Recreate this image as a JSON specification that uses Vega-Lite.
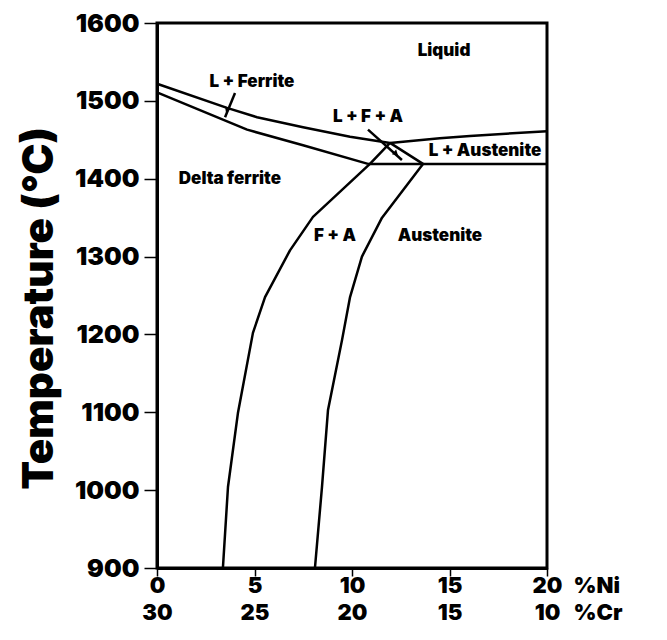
{
  "$schema": "https://vega.github.io/schema/vega-lite/v6.json",
  "width": 390,
  "height": 545,
  "autosize": {"type": "none"},
  "padding": {"left": 157, "top": 23, "right": 120, "bottom": 72},
  "background": "white",
  "config": {
    "view": {"stroke": "black", "strokeWidth": 3},
    "axis": {"grid": false, "domainColor": "black", "domainWidth": 3, "tickColor": "black", "tickWidth": 1.5, "labelColor": "black", "titleColor": "black", "labelFont": "Inter", "labelFontWeight": 900, "titleFont": "Inter", "titleFontWeight": 900, "labelFlush": false, "labelOverlap": false}
  },
  "datasets": {
    "lines": [
      {"series": "liquidus", "ord": 1, "ni": 0, "t": 1522},
      {"series": "liquidus", "ord": 2, "ni": 3.59, "t": 1491},
      {"series": "liquidus", "ord": 3, "ni": 5.13, "t": 1479},
      {"series": "liquidus", "ord": 4, "ni": 7.49, "t": 1466},
      {"series": "liquidus", "ord": 5, "ni": 9.9, "t": 1454},
      {"series": "liquidus", "ord": 6, "ni": 11.95, "t": 1446},
      {"series": "liquidus", "ord": 7, "ni": 14.5, "t": 1452},
      {"series": "liquidus", "ord": 8, "ni": 16.05, "t": 1455},
      {"series": "liquidus", "ord": 9, "ni": 20, "t": 1461},
      {"series": "solidus", "ord": 1, "ni": 0, "t": 1511},
      {"series": "solidus", "ord": 2, "ni": 4.62, "t": 1463},
      {"series": "solidus", "ord": 3, "ni": 7.49, "t": 1443},
      {"series": "solidus", "ord": 4, "ni": 10.82, "t": 1419},
      {"series": "peritectic", "ord": 1, "ni": 10.82, "t": 1419},
      {"series": "peritectic", "ord": 2, "ni": 20, "t": 1419},
      {"series": "fa_left", "ord": 1, "ni": 11.95, "t": 1446},
      {"series": "fa_left", "ord": 2, "ni": 10.92, "t": 1419},
      {"series": "fa_left", "ord": 3, "ni": 8.0, "t": 1351},
      {"series": "fa_left", "ord": 4, "ni": 6.82, "t": 1308},
      {"series": "fa_left", "ord": 5, "ni": 5.54, "t": 1248},
      {"series": "fa_left", "ord": 6, "ni": 4.92, "t": 1202},
      {"series": "fa_left", "ord": 7, "ni": 4.15, "t": 1099},
      {"series": "fa_left", "ord": 8, "ni": 3.64, "t": 1004},
      {"series": "fa_left", "ord": 9, "ni": 3.38, "t": 900},
      {"series": "fa_right", "ord": 1, "ni": 11.95, "t": 1446},
      {"series": "fa_right", "ord": 2, "ni": 13.64, "t": 1419},
      {"series": "fa_right", "ord": 3, "ni": 11.54, "t": 1350},
      {"series": "fa_right", "ord": 4, "ni": 10.51, "t": 1300},
      {"series": "fa_right", "ord": 5, "ni": 9.9, "t": 1248},
      {"series": "fa_right", "ord": 6, "ni": 9.49, "t": 1193},
      {"series": "fa_right", "ord": 7, "ni": 8.77, "t": 1103},
      {"series": "fa_right", "ord": 8, "ni": 8.46, "t": 1004},
      {"series": "fa_right", "ord": 9, "ni": 8.1, "t": 900},
      {"series": "pointer1", "ord": 1, "ni": 4.0, "t": 1510},
      {"series": "pointer1", "ord": 2, "ni": 3.49, "t": 1479},
      {"series": "pointer2", "ord": 1, "ni": 10.82, "t": 1463},
      {"series": "pointer2", "ord": 2, "ni": 12.56, "t": 1424}
    ],
    "heads": [
      {"head": "h1", "ni": 3.59, "t": 1488},
      {"head": "h2", "ni": 12.26, "t": 1432}
    ],
    "labels": [
      {"text": "Liquid", "ni": 14.72, "t": 1564},
      {"text": "L + Ferrite", "ni": 4.87, "t": 1524},
      {"text": "L + F + A", "ni": 10.82, "t": 1479},
      {"text": "L + Austenite", "ni": 16.82, "t": 1436},
      {"text": "Delta ferrite", "ni": 3.74, "t": 1400},
      {"text": "F + A", "ni": 9.13, "t": 1326},
      {"text": "Austenite", "ni": 14.51, "t": 1326}
    ]
  },
  "encoding": {
    "x": {
      "field": "ni", "type": "quantitative",
      "scale": {"domain": [0, 20], "nice": false, "zero": false},
      "axis": {
        "values": [0, 5, 10, 15, 20],
        "tickSize": 8,
        "labelPadding": -1,
        "labelFontSize": 22,
        "labelLineHeight": 27,
        "labelExpr": "[datum.label, '' + (30 - datum.value)]",
        "title": ["%Ni", "%Cr"],
        "titleFontSize": 22,
        "titleLineHeight": 27,
        "titleAngle": 0,
        "titleAlign": "left",
        "titleBaseline": "top",
        "titleX": 416,
        "titleY": 7
      }
    },
    "y": {
      "field": "t", "type": "quantitative",
      "scale": {"domain": [900, 1600], "nice": false, "zero": false},
      "axis": {
        "values": [900, 1000, 1100, 1200, 1300, 1400, 1500, 1600],
        "format": "d",
        "tickSize": 13,
        "labelPadding": 5,
        "labelFontSize": 25,
        "title": "Temperature (°C)",
        "titleFontSize": 42,
        "titlePadding": 13,
        "titleY": 285
      }
    }
  },
  "layer": [
    {
      "data": {"name": "lines"},
      "mark": {"type": "line", "color": "black", "strokeWidth": 2.5, "strokeJoin": "round", "clip": false},
      "encoding": {
        "detail": {"field": "series", "type": "nominal"},
        "order": {"field": "ord", "type": "quantitative"}
      }
    },
    {
      "data": {"name": "heads"},
      "transform": [{"filter": "datum.head == 'h1'"}],
      "mark": {"type": "point", "shape": "triangle-down", "filled": true, "color": "black", "size": 40, "angle": 22, "opacity": 1}
    },
    {
      "data": {"name": "heads"},
      "transform": [{"filter": "datum.head == 'h2'"}],
      "mark": {"type": "point", "shape": "triangle-down", "filled": true, "color": "black", "size": 40, "angle": 312, "opacity": 1}
    },
    {
      "data": {"name": "labels"},
      "mark": {"type": "text", "font": "Inter", "fontWeight": 900, "fontSize": 17, "color": "black", "align": "center", "baseline": "middle"},
      "encoding": {"text": {"field": "text", "type": "nominal"}}
    }
  ]
}
